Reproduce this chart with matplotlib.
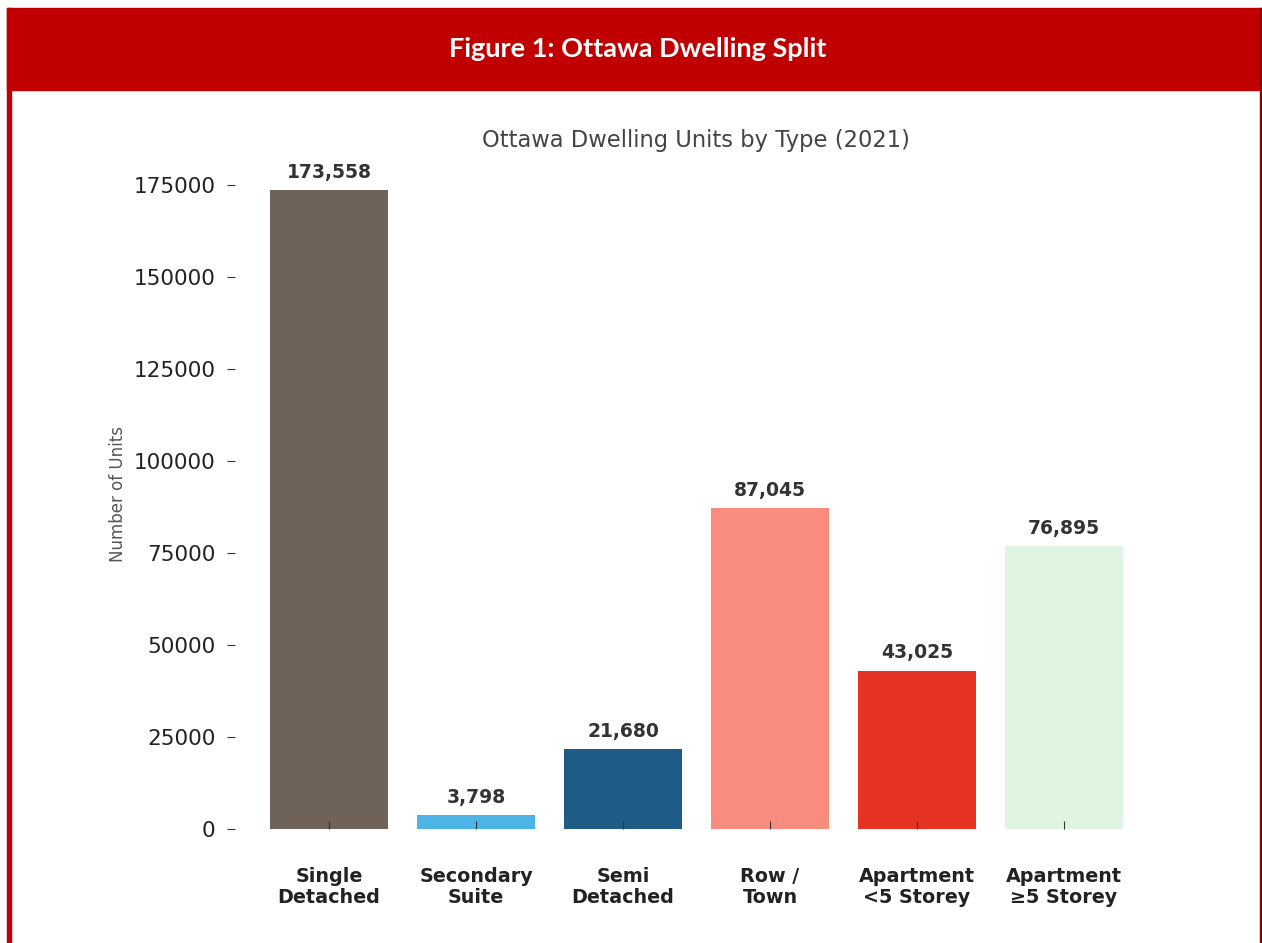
import matplotlib.pyplot as plt
from matplotlib.patches import Rectangle

categories = ["Single\nDetached", "Secondary\nSuite", "Semi\nDetached", "Row /\nTown",
              "Apartment\n<5 Storey", "Apartment\n≥5 Storey"]
units = [173558, 3798, 21680, 87045, 43025, 76895]
colors = ["#6E6259", "#4DB4E6", "#1F5C85", "#F98C7E", "#E63323", "#DFF5E1"]

plt.rcParams['font.family'] = ['DejaVu Sans']

fig = plt.figure(figsize=(12.62, 9.43), dpi=100)

# header band and page border
fig.patches.append(Rectangle((7 / 1262, 1 - 90 / 943), 1 - 7 / 1262, 82 / 943,
                             transform=fig.transFigure, color="#C00000", zorder=0))
fig.patches.append(Rectangle((7 / 1262, 0), 4 / 1262, 1 - 8 / 943,
                             transform=fig.transFigure, color="#C00000", zorder=0))
fig.patches.append(Rectangle((1260 / 1262, 0), 2 / 1262, 1 - 8 / 943,
                             transform=fig.transFigure, color="#8B0000", zorder=0))
fig.text(0.505, 1 - 49 / 943, "Figure 1: Ottawa Dwelling Split", color="white",
         fontsize=19.5, fontweight="bold", family="Lato", ha="center", va="center")

ax = fig.add_axes([235 / 1262, 1 - 829 / 943, (1158 - 235) / 1262, (829 - 158) / 943])
x = range(len(categories))
bars = ax.bar(x, units, width=0.8, color=colors)
ax.set_xlim(-0.64, 5.64)

for b, v in zip(bars, units):
    ax.annotate(f"{v:,}", (b.get_x() + b.get_width() / 2, v), xytext=(0, 6),
                textcoords="offset points", ha="center", va="bottom",
                fontsize=13.5, fontweight="bold", color="#333333")

for s in ax.spines.values():
    s.set_visible(False)

ax.set_xticks(list(x))
ax.set_xticklabels(categories, fontsize=13.8, fontweight="bold", color="#222222",
                   linespacing=1.15)
ax.tick_params(axis="x", direction="in", length=6, pad=27, color="#333333")
ax.tick_params(axis="y", direction="out", length=6, labelsize=15.5, color="#333333",
               labelcolor="#222222", pad=8)
ax.set_yticks([0, 25000, 50000, 75000, 100000, 125000, 150000, 175000])

ax.set_ylabel("Number of Units", fontsize=12, color="#555555", labelpad=5)
ax.set_title("Ottawa Dwelling Units by Type (2021)", fontsize=16.3, color="#444444", pad=8)

fig.savefig("out.png", dpi=100)
